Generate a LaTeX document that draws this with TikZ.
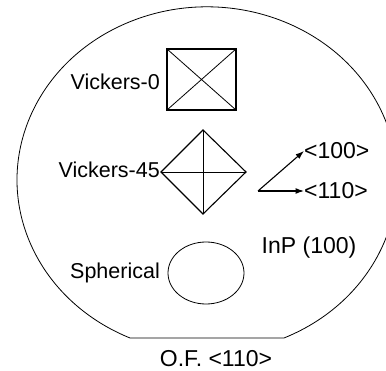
\documentclass[tikz,border=0pt]{standalone}
\usepackage{fontspec}
\setmainfont{Liberation Sans}
\usetikzlibrary{arrows.meta}
\begin{document}
\begin{tikzpicture}[x=1pt,y=-1pt,
  lbl/.style={font=\fontsize{21.5}{24}\selectfont, inner sep=0pt},
  wlbl/.style={font=\fontsize{23}{26}\selectfont, inner sep=0pt},
  thin line/.style={line width=0.8pt},
  shp/.style={line width=1.1pt},
  arr/.style={line width=1.1pt,-{Latex[length=8.5pt,width=6pt]}}]
\useasboundingbox (0,0) rectangle (386,371);
% wafer outline with orientation flat
\begin{scope}
\clip (0,0) rectangle (386,371);
\coordinate (fr) at (284,338);
\draw[thin line] (fr) arc[start angle=66.1, end angle=-246.1, x radius=190, y radius=173] -- cycle;
\end{scope}
% Vickers-0
\coordinate (sq1) at (167,49);
\coordinate (sq2) at (236,49);
\coordinate (sq3) at (236,110);
\coordinate (sq4) at (167,110);
\draw[shp] (sq1) -- (sq2) -- (sq3) -- (sq4) -- cycle;
\draw[thin line] (sq1) -- (sq3) (sq2) -- (sq4);
\node[lbl, anchor=east] (v0) at (160,82) {Vickers-0};
% Vickers-45
\coordinate (dt) at (203,130);
\coordinate (dr) at (246,172);
\coordinate (db) at (203,214);
\coordinate (dl) at (161,172);
\draw[shp] (dt) -- (dr) -- (db) -- (dl) -- cycle;
\draw[thin line] (dt) -- (db) (dl) -- (dr);
\node[lbl, anchor=east] (v45) at (160,170) {Vickers-45};
% Spherical
\draw[thin line] (206,273) ellipse[x radius=38, y radius=31];
\node[lbl, anchor=east] (sph) at (160,273) {Spherical};
% directions
\coordinate (o) at (258,191);
\node[wlbl, anchor=west] (d100) at (304,151) {<100>};
\node[wlbl, anchor=west] (d110) at (304,191) {<110>};
\draw[arr] (o) -- (d100.west);
\draw[arr] (o) -- (d110.west);
\node[wlbl] (inp) at (309,248) {InP (100)};
\node[wlbl] (of) at (216,359) {O.F. <110>};
\end{tikzpicture}
\end{document}
